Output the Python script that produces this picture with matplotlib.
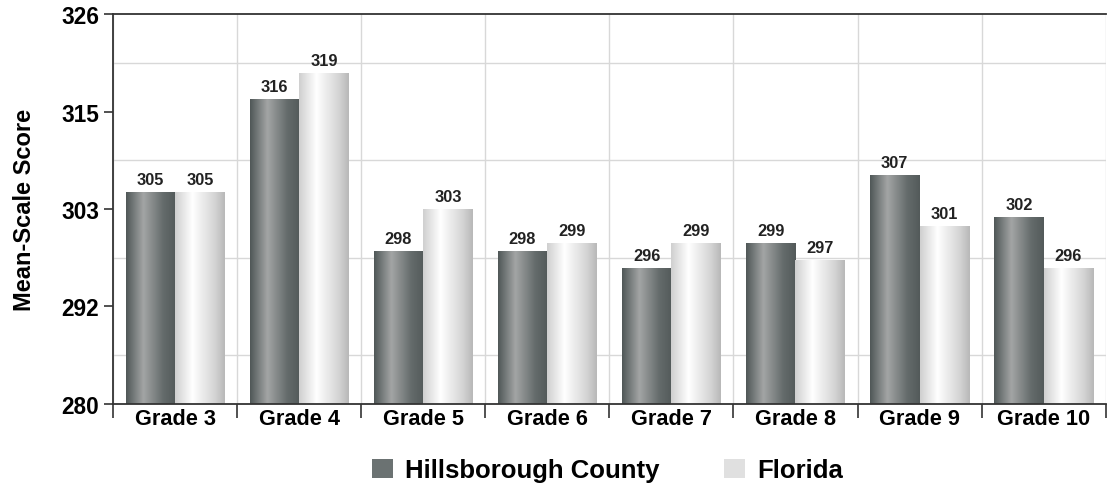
import matplotlib.pyplot as plt
import numpy as np
from matplotlib.colors import LinearSegmentedColormap
from matplotlib.patches import Patch

plt.rcParams['font.family'] = ['Liberation Sans', 'DejaVu Sans']
plt.rcParams['font.weight'] = 'bold'

grades = ["Grade 3", "Grade 4", "Grade 5", "Grade 6", "Grade 7", "Grade 8", "Grade 9", "Grade 10"]
hillsborough = [305, 316, 298, 298, 296, 299, 307, 302]
florida = [305, 319, 303, 299, 299, 297, 301, 296]
series_names = ["Hillsborough County", "Florida"]

y_min, y_max = 280, 326
y_ticks = np.linspace(y_min, y_max, 5)
y_labels = ["280", "292", "303", "315", "326"]

# cylinder-like shading for each series
dark_cmap = LinearSegmentedColormap.from_list(
    "dark", [(0, "#4f5757"), (0.35, "#a3a5a5"), (0.75, "#646b6b"), (1, "#535a5a")])
light_cmap = LinearSegmentedColormap.from_list(
    "light", [(0, "#cfcfcf"), (0.35, "#ffffff"), (0.8, "#d4d4d4"), (1, "#b8b8b8")])

fig = plt.figure(figsize=(11.09, 4.89), dpi=100)
ax = fig.add_axes([0.102, 0.172, 0.895, 0.797])

x = np.arange(len(grades))
width = 0.4
grad = np.linspace(0, 1, 256).reshape(1, -1)

for vals, offset, cmap, fc in [(hillsborough, -width / 2, dark_cmap, "#6b7272"),
                               (florida, width / 2, light_cmap, "#e0e0e0")]:
    bars = ax.bar(x + offset, np.array(vals) - y_min, width, bottom=y_min,
                  color=fc, zorder=2)
    for b, v in zip(bars, vals):
        x0 = b.get_x()
        im = ax.imshow(grad, cmap=cmap, aspect='auto',
                       extent=[x0, x0 + b.get_width(), y_min, v], zorder=2.5)
        im.set_clip_path(b)
        ax.text(x0 + b.get_width() / 2, v + 0.6, str(v), ha='center', va='bottom',
                fontsize=11.8, fontweight='bold', color='#222222', zorder=3)

ax.set_xlim(-0.5, len(grades) - 0.5)
ax.set_ylim(y_min, y_max)

ax.set_yticks(y_ticks)
ax.set_yticklabels(y_labels, fontsize=16.3, fontweight='bold')
ax.set_yticks((y_ticks[:-1] + y_ticks[1:]) / 2, minor=True)
ax.tick_params(axis='y', which='major', length=6.5, width=1.2, color='#333333', pad=3.5)
ax.tick_params(axis='y', which='minor', length=0)

ax.set_xticks(np.arange(len(grades) + 1) - 0.5)
ax.set_xticklabels([])
ax.set_xticks(x, minor=True)
ax.set_xticklabels(grades, minor=True, fontsize=15.7, fontweight='bold')
ax.tick_params(axis='x', which='major', length=10, width=1.2, color='#333333')
ax.tick_params(axis='x', which='minor', length=0, pad=3)

ax.grid(True, axis='x', which='major', color='#d8d8d8', linewidth=1, zorder=0)
ax.grid(True, axis='y', which='minor', color='#d8d8d8', linewidth=1, zorder=0)
ax.set_axisbelow(True)

for s in ['left', 'bottom', 'top']:
    ax.spines[s].set_color('#333333')
    ax.spines[s].set_linewidth(1.3)
ax.spines['right'].set_visible(False)

ax.set_ylabel("Mean-Scale Score", fontsize=17, fontweight='bold', labelpad=18)

handles = [Patch(facecolor="#6b7272", label=series_names[0]),
           Patch(facecolor="#e0e0e0", label=series_names[1])]
fig.legend(handles=handles, loc='center', bbox_to_anchor=(0.548, 0.036), ncol=2,
           frameon=False, prop={'size': 18.5, 'weight': 'bold'}, handlelength=0.8,
           handleheight=0.8, columnspacing=2.5, handletextpad=0.5)

fig.savefig("out.png", dpi=100)
